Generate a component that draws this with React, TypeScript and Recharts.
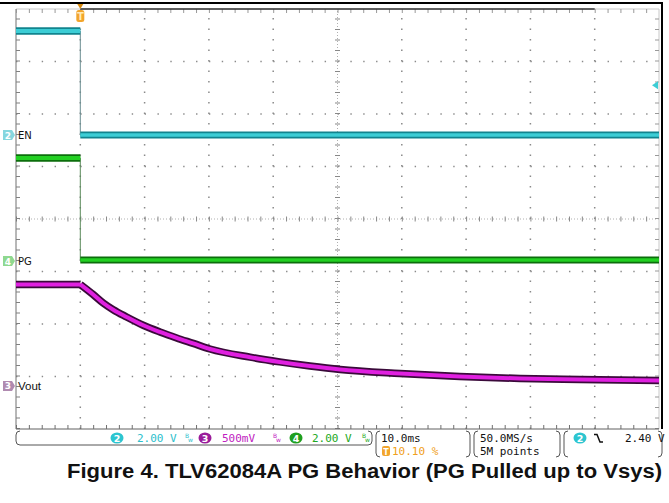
import React from 'react';
import { LineChart, Line, XAxis, YAxis, ReferenceLine } from 'recharts';

// ---------- data (time in ms, values in volts) ----------
const EN_T = [-10, 0, 0, 90];
const EN_V = [3.96, 3.96, 0.0, 0.0];

const PG_T = [-10, 0, 0, 90];
const PG_V = [3.92, 3.92, 0.04, 0.04];

const VOUT_T = [-10, 0, 2.0, 3.56, 5.12, 7.2, 9.78, 12.38, 14.98, 17.56, 20.16, 26.4, 31.0, 35.7, 40.4, 49.7, 59.0, 68.4, 77.7, 90];
const VOUT_V = [0.967, 0.967, 0.871, 0.79, 0.726, 0.657, 0.578, 0.514, 0.457, 0.405, 0.352, 0.274, 0.229, 0.19, 0.157, 0.119, 0.09, 0.071, 0.062, 0.052];

// channel settings (volts per division, ground marker position in divisions from centre)
const EN_SCALE = 2.0;
const PG_SCALE = 2.0;
const VOUT_SCALE = 0.5;
const EN_GROUND = 1.6;
const PG_GROUND = -0.8;
const VOUT_GROUND = -3.18;
const TRIG_MARK_V = 1.9;

// screen graticule
const TIME_DOMAIN = [-10, 90];
const DIV_DOMAIN = [-4, 4];
const GRID_TIMES = [0, 10, 20, 30, 50, 60, 70, 80];
const CENTER_TIME = 40;
const GRID_DIVS = [-3, -2, -1, 1, 2, 3];
const RECORD_VIEW = [0, 80];

const W = 669;
const H = 503;
const M = { top: 9, left: 16, right: 10, bottom: 74 };
const PX_PER_MS = (W - M.left - M.right) / 100;
const PX_PER_DIV = (H - M.top - M.bottom) / 8;
const HDOT = `1.4 ${(PX_PER_MS * 2 - 1.4).toFixed(3)}`;
const VDOT = `1.4 ${(PX_PER_DIV / 5 - 1.4).toFixed(3)}`;
const HTICK = `1 ${(PX_PER_MS * 2 - 1).toFixed(3)}`;
const VTICK = `1 ${(PX_PER_DIV / 5 - 1).toFixed(3)}`;

function seg(ts: number[], vs: number[], from: number, to: number, ground: number, scale: number, key: string) {
  const out: any[] = [];
  for (let i = from; i <= to; i++) out.push({ t: ts[i], [key]: ground + vs[i] / scale });
  return out;
}

const enHigh = seg(EN_T, EN_V, 0, 1, EN_GROUND, EN_SCALE, 'enHi');
const enEdge = seg(EN_T, EN_V, 1, 2, EN_GROUND, EN_SCALE, 'enEdge');
const enLow = seg(EN_T, EN_V, 2, 3, EN_GROUND, EN_SCALE, 'enLo');
const pgHigh = seg(PG_T, PG_V, 0, 1, PG_GROUND, PG_SCALE, 'pgHi');
const pgEdge = seg(PG_T, PG_V, 1, 2, PG_GROUND, PG_SCALE, 'pgEdge');
const pgLow = seg(PG_T, PG_V, 2, 3, PG_GROUND, PG_SCALE, 'pgLo');
const voutFlat = seg(VOUT_T, VOUT_V, 0, 1, VOUT_GROUND, VOUT_SCALE, 'voutFlat');
const voutDecay = seg(VOUT_T, VOUT_V, 1, VOUT_T.length - 1, VOUT_GROUND, VOUT_SCALE, 'voutDecay');

const mono = 'DejaVu Sans Mono, monospace';

function tag(num: string, fill: string, label: string, font: string, size: number) {
  return (props: any) => {
    const vb = props.viewBox || {};
    const x = vb.x;
    const y = vb.y + (vb.height || 0) / 2;
    return (
      <g>
        <path d={`M ${x - 13} ${y - 5} H ${x - 4} L ${x - 1} ${y} L ${x - 4} ${y + 5} H ${x - 13} Z`} fill={fill} />
        <text x={x - 8} y={y + 3.5} fontSize={9} fontWeight="bold" fill="#ffffff" textAnchor="middle" fontFamily="DejaVu Sans">{num}</text>
        <text x={x + 2} y={y + 4} fontSize={size} fill="#111" fontFamily={font}>{label}</text>
      </g>
    );
  };
}

const trigTag = (props: any) => {
  const vb = props.viewBox || {};
  const x = vb.x;
  const top = Math.min(vb.y, vb.y + (vb.height || 0));
  return (
    <g>
      <path d={`M ${x - 3} ${top - 5} L ${x + 3} ${top - 5} L ${x} ${top} Z`} fill="#d88a10" />
      <rect x={x - 4} y={top + 1} width={8} height={12} rx={2.5} fill="#f2a52c" />
      <text x={x} y={top + 11} fontSize={10} fontWeight="bold" fill="#ffe9b8" textAnchor="middle" fontFamily="DejaVu Sans">T</text>
    </g>
  );
};

const levelArrow = (props: any) => {
  const vb = props.viewBox || {};
  const xr = vb.x + vb.width;
  const y = vb.y + (vb.height || 0) / 2;
  return <path d={`M ${xr - 7} ${y} L ${xr - 1} ${y - 4} L ${xr - 1} ${y + 4} Z`} fill="#3ccdd5" />;
};

function badge(cx: number, cy: number, fill: string, n: string) {
  return (
    <g>
      <ellipse cx={cx} cy={cy} rx={6.5} ry={5.5} fill={fill} />
      <text x={cx} y={cy + 3.5} fontSize={9.5} fontWeight="bold" fill="#fff" textAnchor="middle" fontFamily="DejaVu Sans">{n}</text>
    </g>
  );
}

function bw(x: number, color: string) {
  return (
    <g fontFamily="DejaVu Sans" fill={color}>
      <text x={x} y={438} fontSize={6}>B</text>
      <text x={x + 3} y={442} fontSize={6}>w</text>
    </g>
  );
}

function bracket(x1: number, x2: number, y1: number, y2: number) {
  return (
    <g fill="none" stroke="#555" strokeWidth={1}>
      <path d={`M ${x1 + 4} ${y1} Q ${x1} ${y1} ${x1} ${y1 + 4} L ${x1} ${y2 - 4} Q ${x1} ${y2} ${x1 + 4} ${y2}`} />
      <path d={`M ${x2 - 4} ${y1} Q ${x2} ${y1} ${x2} ${y1 + 4} L ${x2} ${y2 - 4} Q ${x2} ${y2} ${x2 - 4} ${y2}`} />
    </g>
  );
}

export default function App() {
  const common = { dot: false, activeDot: false, isAnimationActive: false, type: 'linear' as const, strokeLinejoin: 'round' as const };
  return (
    <div style={{ position: 'absolute', left: 0, top: 0, width: W, height: H, background: '#fff' }}>
      <LineChart width={W} height={H} margin={M}>
        <XAxis type="number" dataKey="t" domain={TIME_DOMAIN} hide allowDataOverflow />
        <YAxis type="number" domain={DIV_DOMAIN} hide allowDataOverflow />

        {GRID_TIMES.map((t) => (
          <ReferenceLine key={'gx' + t} x={t} stroke="#8a8a8a" strokeWidth={1.5} strokeDasharray={VDOT} />
        ))}
        {GRID_DIVS.map((d) => (
          <ReferenceLine key={'gy' + d} y={d} stroke="#8a8a8a" strokeWidth={1.5} strokeDasharray={HDOT} />
        ))}
        <ReferenceLine x={CENTER_TIME} stroke="#b0b0b0" strokeDasharray="1 2" />
        <ReferenceLine x={CENTER_TIME} stroke="#888" strokeWidth={5} strokeDasharray={VTICK} />
        <ReferenceLine y={0} stroke="#b0b0b0" strokeDasharray="1 2" />
        <ReferenceLine y={0} stroke="#888" strokeWidth={5} strokeDasharray={HTICK} />

        <ReferenceLine x={TIME_DOMAIN[0]} stroke="#707070" />
        <ReferenceLine x={TIME_DOMAIN[0] + 2 / PX_PER_MS} stroke="#808080" strokeWidth={4} strokeDasharray={VTICK} />
        <ReferenceLine x={TIME_DOMAIN[1]} stroke="#c8c8c8" />
        <ReferenceLine x={TIME_DOMAIN[1] - 2 / PX_PER_MS} stroke="#999" strokeWidth={4} strokeDasharray={VTICK} />
        <ReferenceLine y={DIV_DOMAIN[0]} stroke="#606060" />
        <ReferenceLine y={DIV_DOMAIN[0] + 2 / PX_PER_DIV} stroke="#707070" strokeWidth={4} strokeDasharray={HTICK} />
        <ReferenceLine y={DIV_DOMAIN[1]} stroke="#c8c8c8" />
        <ReferenceLine y={DIV_DOMAIN[1] - 2 / PX_PER_DIV} stroke="#999" strokeWidth={4} strokeDasharray={HTICK} />
        <ReferenceLine segment={[{ x: RECORD_VIEW[0], y: DIV_DOMAIN[1] }, { x: RECORD_VIEW[1], y: DIV_DOMAIN[1] }]} stroke="#333" strokeWidth={1.5} />

        <ReferenceLine y={EN_GROUND} stroke="none" label={tag('2', '#86d6de', 'EN', 'DejaVu Sans', 10)} />
        <ReferenceLine y={PG_GROUND} stroke="none" label={tag('4', '#8fd88f', 'PG', 'DejaVu Sans', 10)} />
        <ReferenceLine y={VOUT_GROUND} stroke="none" label={tag('3', '#b08ab0', 'Vout', 'Liberation Sans, Arial', 11.5)} />
        <ReferenceLine y={EN_GROUND + TRIG_MARK_V / EN_SCALE} stroke="none" label={levelArrow} />

        <Line {...common} data={enEdge} dataKey="enEdge" stroke="#6a8c90" strokeWidth={1} />
        <Line {...common} data={pgEdge} dataKey="pgEdge" stroke="#5a8a5a" strokeWidth={1} />

        <Line {...common} data={enHigh} dataKey="enHi" stroke="#12848e" strokeWidth={7.5} />
        <Line {...common} data={enHigh} dataKey="enHi" stroke="#3ccdd5" strokeWidth={4} />
        <Line {...common} data={enLow} dataKey="enLo" stroke="#12848e" strokeWidth={7} />
        <Line {...common} data={enLow} dataKey="enLo" stroke="#3ccdd5" strokeWidth={3.5} />

        <Line {...common} data={pgHigh} dataKey="pgHi" stroke="#0c6e0c" strokeWidth={7.5} />
        <Line {...common} data={pgHigh} dataKey="pgHi" stroke="#22d022" strokeWidth={4} />
        <Line {...common} data={pgLow} dataKey="pgLo" stroke="#0c6e0c" strokeWidth={7} />
        <Line {...common} data={pgLow} dataKey="pgLo" stroke="#22d022" strokeWidth={3.5} />

        <Line {...common} data={voutFlat} dataKey="voutFlat" stroke="#3a0a3a" strokeWidth={7.5} />
        <Line {...common} type="monotone" data={voutDecay} dataKey="voutDecay" stroke="#3a0a3a" strokeWidth={7.5} />
        <Line {...common} data={voutFlat} dataKey="voutFlat" stroke="#e020e0" strokeWidth={4} />
        <Line {...common} type="monotone" data={voutDecay} dataKey="voutDecay" stroke="#e020e0" strokeWidth={4} />

        <ReferenceLine x={0} stroke="none" label={trigTag} />
      </LineChart>

      <svg width={W} height={H} style={{ position: 'absolute', left: 0, top: 0, pointerEvents: 'none' }}>
        <line x1={0} y1={3} x2={663} y2={3} stroke="#000" strokeWidth={2} />
        <line x1={662} y1={3} x2={662} y2={429} stroke="#000" strokeWidth={2} />

        <path d="M 20 431 Q 16 431 16 435 L 16 441 Q 16 445 20 445 L 368 445 Q 372 445 372 441 L 372 435 Q 372 431 368 431" fill="none" stroke="#555" strokeWidth={1} />
        {bracket(376, 470, 431, 457)}
        {bracket(474, 560, 431, 457)}
        {bracket(564, 662, 431, 457)}

        {badge(117, 438, '#2cc5d0', '2')}
        <text x={137} y={442} fontSize={11} fontFamily={mono} fill="#2cc0cc">2.00 V</text>
        {bw(185, '#2cc0cc')}
        {badge(205, 438, '#9a1c9a', '3')}
        <text x={222} y={442} fontSize={11} fontFamily={mono} fill="#c020c0">500mV</text>
        {bw(273, '#c020c0')}
        {badge(296, 438, '#1f9f1f', '4')}
        <text x={312} y={442} fontSize={11} fontFamily={mono} fill="#22a822">2.00 V</text>
        {bw(362, '#22a822')}

        <text x={381} y={442} fontSize={11} fontFamily={mono} fill="#111">10.0ms</text>
        <rect x={382} y={446} width={8} height={10} rx={2} fill="#f2a52c" />
        <text x={386} y={454.5} fontSize={8} fontWeight="bold" fontFamily="DejaVu Sans" fill="#fff" textAnchor="middle">T</text>
        <text x={392} y={455} fontSize={11} fontFamily={mono} fill="#f0a020">10.10 %</text>

        <text x={480} y={442} fontSize={11} fontFamily={mono} fill="#111">50.0MS/s</text>
        <text x={480} y={455} fontSize={11} fontFamily={mono} fill="#111">5M points</text>

        {badge(580, 438, '#2cc5d0', '2')}
        <path d="M 594 434.5 H 597 L 600 442 H 603" fill="none" stroke="#111" strokeWidth={1.5} />
        <text x={625} y={442} fontSize={11} fontFamily={mono} fill="#111">2.40 V</text>

        <text x={67} y={478} fontSize={20} fontWeight="bold" fontFamily="Liberation Sans, Arial, sans-serif" fill="#111" textLength={595} lengthAdjust="spacingAndGlyphs">Figure 4. TLV62084A PG Behavior (PG Pulled up to Vsys)</text>
      </svg>
    </div>
  );
}
